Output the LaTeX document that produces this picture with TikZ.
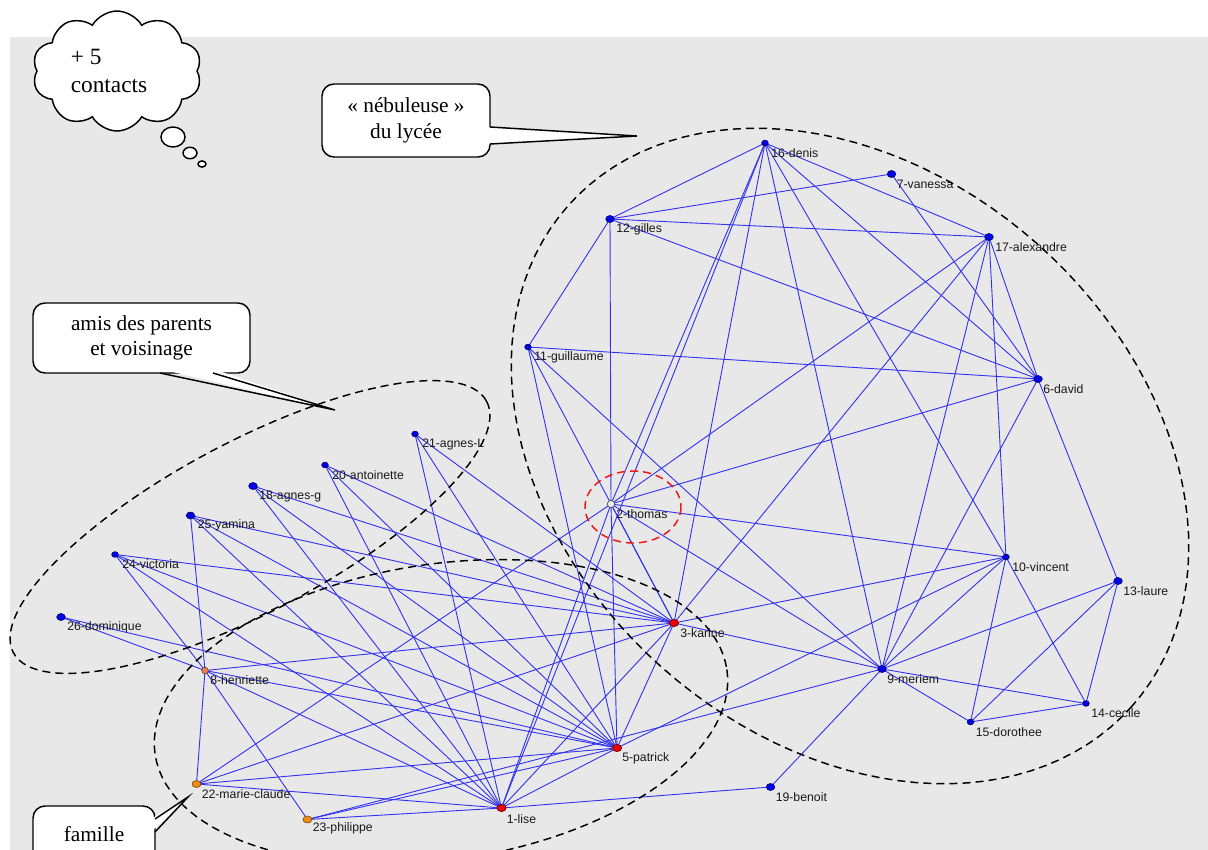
\documentclass[tikz,border=0pt]{standalone}
\usepackage{fontspec}
\setmainfont{Liberation Serif}
\newfontfamily\lblfont{Liberation Sans}
\usetikzlibrary{shapes.geometric,shapes.symbols,calc}
\pgfdeclarelayer{bgl}
\pgfdeclarelayer{edgel}
\pgfsetlayers{bgl,edgel,main}
\definecolor{bggray}{RGB}{232,232,232}
\definecolor{edgeblue}{RGB}{50,50,240}
\definecolor{nodeblue}{RGB}{0,0,235}
\definecolor{navyout}{RGB}{0,0,90}
\definecolor{nodered}{RGB}{235,0,0}
\definecolor{redout}{RGB}{100,0,0}
\definecolor{nodeorange}{RGB}{235,140,20}
\definecolor{orangeout}{RGB}{110,60,10}
\definecolor{nodesalmon}{RGB}{235,125,80}
\definecolor{thomasout}{RGB}{80,80,80}
\definecolor{thomasfill}{RGB}{235,235,235}
\definecolor{labelgray}{RGB}{25,25,25}
\definecolor{redash}{RGB}{240,20,20}
\begin{document}
\begin{tikzpicture}[x=0.75pt,y=-0.75pt,
  edge/.style={draw=edgeblue, line width=0.68pt},
  vb/.style={ellipse, draw=navyout, fill=nodeblue, line width=0.4pt, inner sep=0pt, minimum width=5pt, minimum height=4.3pt},
  vbb/.style={vb, minimum width=6.5pt, minimum height=5.3pt},
  vr/.style={vb, fill=nodered, draw=redout, minimum width=7pt, minimum height=5.5pt},
  vo/.style={vb, fill=nodeorange, draw=orangeout, minimum width=6.8pt, minimum height=5.3pt},
  vs/.style={vb, fill=nodesalmon, draw=orangeout, minimum width=5pt, minimum height=5pt},
  vt/.style={circle, draw=thomasout, fill=thomasfill, line width=0.5pt, inner sep=0pt, minimum size=5.5pt},
  lbl/.style={anchor=west, inner sep=0pt, font=\lblfont\fontsize{9.2}{10}\selectfont, text=labelgray},
  grp/.style={draw=black, line width=1.1pt, dash pattern=on 6pt off 3.8pt},
  callout/.style={draw=black, fill=white, line width=1.1pt, rounded corners=9pt, align=center, font=\fontsize{16}{19}\selectfont, inner sep=0pt},
  wedge/.style={draw=black, line width=1.1pt, line join=miter},
]
\useasboundingbox (0,0) rectangle (1208,850);
\begin{pgfonlayer}{bgl}
\fill[white] (0,0) rectangle (1208,850);
\fill[bggray] (10,37) rectangle (1208,850);
\end{pgfonlayer}

% vertices
\node[vr]  (n1)  at (501.5,808) {};
\node[vt]  (n2)  at (611,504) {};
\node[vr]  (n3)  at (674,623) {};
\node[vr]  (n5)  at (617,748) {};
\node[vbb] (n6)  at (1038,379) {};
\node[vbb] (n7)  at (891.5,174) {};
\node[vs]  (n8)  at (205,670.5) {};
\node[vbb] (n9)  at (882,669) {};
\node[vb]  (n10) at (1006,557) {};
\node[vb]  (n11) at (528,347) {};
\node[vbb] (n12) at (610,219) {};
\node[vbb] (n13) at (1118,581) {};
\node[vb]  (n14) at (1086,703.5) {};
\node[vb]  (n15) at (970.5,722) {};
\node[vb]  (n16) at (765,143) {};
\node[vbb] (n17) at (989,237) {};
\node[vbb] (n18) at (253,486) {};
\node[vbb] (n19) at (770.5,787) {};
\node[vb]  (n20) at (325,465) {};
\node[vb]  (n21) at (415,434) {};
\node[vo]  (n22) at (196.5,784) {};
\node[vo]  (n23) at (307.5,819.5) {};
\node[vb]  (n24) at (115,554.5) {};
\node[vbb] (n25) at (190.5,515.5) {};
\node[vbb] (n26) at (61,617) {};

% connectors
\begin{pgfonlayer}{edgel}
\foreach \a/\b in {12/16,12/7,12/17,12/6,12/11,12/2,
  16/17,16/6,16/10,16/9,16/3,16/1,16/2,
  7/6,17/6,17/10,17/9,17/2,17/3,
  6/11,6/2,6/9,6/13,
  11/5,11/3,11/9,
  2/10,2/9,2/5,2/3,2/1,2/22,
  10/9,10/3,10/5,10/14,10/15,
  9/13,9/14,9/15,9/19,9/3,9/23,
  13/14,13/15,14/15,19/1,
  3/5,3/1,3/22,3/24,3/25,3/18,3/20,3/21,3/8,
  5/1,5/20,5/21,5/18,5/25,5/24,5/26,5/8,5/22,5/23,
  1/25,1/18,1/20,1/21,1/8,1/22,1/23,1/24,
  8/26,8/25,8/24,8/22,8/23}
  \draw[edge] (n\a.center) -- (n\b.center);
\end{pgfonlayer}

% labels
\node[lbl] (t1)  at ($(n1)+(5,11)$)  {1-lise};
\node[lbl] (t2)  at ($(n2)+(5,10)$)  {2-thomas};
\node[lbl] (t3)  at ($(n3)+(6,10)$)  {3-karine};
\node[lbl] (t5)  at ($(n5)+(5,10)$)  {5-patrick};
\node[lbl] (t6)  at ($(n6)+(5,10)$)  {6-david};
\node[lbl] (t7)  at ($(n7)+(5,10)$)  {7-vanessa};
\node[lbl] (t8)  at ($(n8)+(5,10)$)  {8-henriette};
\node[lbl] (t9)  at ($(n9)+(5,10)$)  {9-meriem};
\node[lbl] (t10) at ($(n10)+(6,10)$) {10-vincent};
\node[lbl] (t11) at ($(n11)+(6,10)$) {11-guillaume};
\node[lbl] (t12) at ($(n12)+(6,10)$) {12-gilles};
\node[lbl] (t13) at ($(n13)+(5,10)$) {13-laure};
\node[lbl] (t14) at ($(n14)+(5,10)$) {14-cecile};
\node[lbl] (t15) at ($(n15)+(5,10)$) {15-dorothee};
\node[lbl] (t16) at ($(n16)+(6,10)$) {16-denis};
\node[lbl] (t17) at ($(n17)+(6,10)$) {17-alexandre};
\node[lbl] (t18) at ($(n18)+(6,10)$) {18-agnes-g};
\node[lbl] (t19) at ($(n19)+(5,10)$) {19-benoit};
\node[lbl] (t20) at ($(n20)+(7,10)$) {20-antoinette};
\node[lbl] (t21) at ($(n21)+(7,10)$) {21-agnes-L};
\node[lbl] (t22) at ($(n22)+(5,10)$) {22-marie-claude};
\node[lbl] (t23) at ($(n23)+(5,9)$)  {23-philippe};
\node[lbl] (t24) at ($(n24)+(7,10)$) {24-victoria};
\node[lbl] (t25) at ($(n25)+(7,10)$) {25-yamina};
\node[lbl] (t26) at ($(n26)+(6,10)$) {26-dominique};

% group outlines
\draw[grp] plot[domain=0:360, samples=121] ({850+281.9*cos(\x)-187.9*sin(\x)}, {456+250.3*cos(\x)+211.6*sin(\x)}) -- cycle;
\draw[grp] plot[domain=0:360, samples=121] ({250+236.6*cos(\x)+39.9*sin(\x)}, {527-125.7*cos(\x)+75.1*sin(\x)}) -- cycle;
\draw[grp] plot[domain=0:360, samples=121] ({441+285.9*cos(\x)+21.8*sin(\x)}, {712-42.5*cos(\x)+146.4*sin(\x)}) -- cycle;
\draw[grp, draw=redash] plot[domain=0:360, samples=81] ({633+48*cos(\x)}, {507+36*sin(\x)}) -- cycle;

% callouts
\node[cloud, cloud puffs=10, cloud puff arc=120, cloud ignores aspect, draw=black, fill=white, line width=1.1pt, minimum width=127pt, minimum height=90pt, align=left, inner sep=0pt, font=\fontsize{17.5}{21}\selectfont] (cloud) at (117,71) {+ 5\\contacts\hspace*{12pt}};
\draw[line width=1.1pt, fill=white] (173,137) ellipse [x radius=9pt, y radius=7.5pt];
\draw[line width=1.1pt, fill=white] (190,153) ellipse [x radius=5.2pt, y radius=4.3pt];
\draw[line width=1.1pt, fill=white] (202,164) ellipse [x radius=3pt, y radius=2.3pt];

\node[callout, minimum width=126pt, minimum height=54.75pt] (neb) at (406,120.5) {« nébuleuse »\\du lycée};
\coordinate (nebtip) at (637,136);
\fill[white] (486,127) -- (nebtip) -- (486,144) -- cycle;
\draw[wedge] (490,127) -- (nebtip) -- (490,144);

\node[callout, minimum width=162.75pt, minimum height=52.5pt] (amis) at (141.5,338) {amis des parents\\et voisinage};
\coordinate (amistip) at (335,410);
\fill[white] (160,369) -- (amistip) -- (213,369) -- cycle;
\draw[wedge] (160,373) -- (amistip) -- (213,373);

\node[callout, minimum width=91.5pt, minimum height=42pt] (fam) at (94,834) {famille};
\coordinate (famtip) at (188,797);
\fill[white] (151,819) -- (famtip) -- (151,832) -- cycle;
\draw[wedge] (155,819) -- (famtip) -- (155,832);
\end{tikzpicture}
\end{document}
